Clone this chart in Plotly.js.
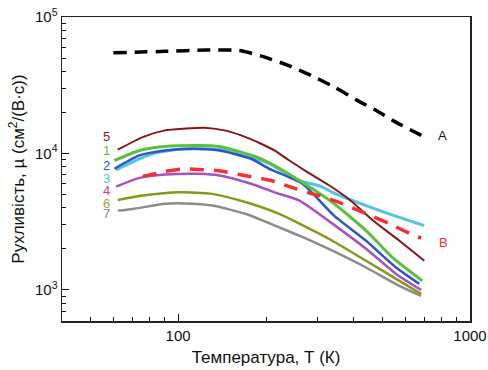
<!DOCTYPE html>
<html><head><meta charset="utf-8">
<script src="https://cdn.plot.ly/plotly-3.0.1.min.js"></script>
<style>html,body{margin:0;padding:0;background:#fff}</style>
</head><body><div id="chart" style="width:488px;height:370px"></div>
<script>
// Temperature T (K) and mobility mu (cm^2/(V*s)) for each curve
const tA = [60, 90, 125, 162, 193, 237, 284, 343, 408, 482, 559, 681];
const muA = [54600, 56000, 57200, 56800, 51700, 44400, 37500, 30600, 24700, 20400, 16900, 13560];

const tB = [75.6, 90, 105, 122, 136, 169, 208, 254, 288, 305, 365, 440, 529, 644, 680];
const muB = [6770, 7370, 7720, 7600, 7500, 6890, 6330, 5500, 5050, 4910, 4290, 3620, 3060, 2500, 2400];

const t5 = [62.1, 75.6, 90.1, 105.1, 123, 144, 164.4, 192.4, 213.7, 240.5, 274.5, 329.8, 386, 463, 573, 697];
const mu5 = [10650, 13180, 14760, 15200, 15450, 14760, 13560, 11780, 10520, 8880, 7400, 5820, 4600, 3250, 2290, 1634];

const t1 = [60.5, 73.7, 90.1, 118.3, 138.5, 164.4, 192.4, 213.7, 260.3, 337.6, 440.4, 541.9, 686.4];
const mu1 = [8880, 10520, 11260, 11450, 11260, 10220, 9140, 8160, 6330, 4380, 2720, 1730, 1165];

const t2 = [60.5, 73.7, 90.1, 112.2, 138.5, 177.8, 205.4, 266.6, 342, 440.4, 558, 670.5];
const mu2 = [7720, 9670, 10520, 10830, 10520, 9140, 7720, 5990, 3500, 2290, 1460, 1107];

const t3 = [61.3, 73.7, 86.3, 105, 138.5, 177.8, 205.4, 260.3, 307, 337.6, 440.4, 572.8, 697];
const mu3 = [7590, 9140, 10220, 10800, 10700, 9390, 8400, 6330, 5770, 5190, 4150, 3400, 2955];

const t4 = [61.3, 73.7, 90.1, 118.3, 138.5, 177.8, 213.7, 260.3, 337.6, 440.4, 558, 680];
const mu4 = [5720, 6625, 7010, 7090, 6890, 5990, 5190, 4510, 3060, 2000, 1310, 1000];

const t6 = [62.1, 75.6, 101, 131, 171, 222, 260.3, 337.6, 440.4, 572.8, 680];
const mu6 = [4565, 4910, 5190, 5054, 4383, 3603, 3057, 2293, 1634, 1165, 935];

const t7 = [62.1, 69.9, 90.1, 105, 131, 171, 222, 260.3, 337.6, 440.4, 572.8, 680];
const mu7 = [3810, 3920, 4270, 4300, 4150, 3600, 2870, 2495, 1936, 1459, 1070, 903];

const curveLabels = ['5', '1', '2', '3', '4', '6', '7'];
const endLabels = ['A', 'B'];
const xTickVals = [100, 1000];
const xTickText = ['100', '1000'];
const yTickVals = [1000, 10000, 100000];
const yTickText = ['10<sup>3</sup>', '10<sup>4</sup>', '10<sup>5</sup>'];
const xMinorVals = [50, 60, 70, 80, 90, 200, 300, 400, 500, 600, 700, 800, 900];
const yMinorVals = [700, 800, 900, 2000, 3000, 4000, 5000, 6000, 7000, 8000, 9000,
  20000, 30000, 40000, 50000, 60000, 70000, 80000, 90000];

function tr(x, y, color, width, dash) {
  return {x: x, y: y, type: 'scatter', mode: 'lines', hoverinfo: 'skip',
    line: {color: color, width: width, dash: dash || 'solid', shape: 'spline', smoothing: 0.6}};
}

const data = [
  tr(t7, mu7, '#8c8c8c', 2.5),
  tr(t6, mu6, '#8a961e', 2.5),
  tr(t4, mu4, '#a552c4', 2.5),
  tr(t3, mu3, '#4ec6de', 3),
  tr(t2, mu2, '#2d55c6', 2.5),
  tr(t1, mu1, '#5cc03c', 3),
  tr(t5, mu5, '#86161a', 2),
  tr(tB, muB, '#f23232', 3.5, '14px,10px'),
  tr(tA, muA, '#000000', 3.5, '13px,8px')
];

const lab = (text, x, y, color) => ({text: text, x: Math.log10(x), y: Math.log10(y), xref: 'x', yref: 'y',
  showarrow: false, font: {size: 13, color: color, family: 'Liberation Sans, Arial, sans-serif'}});

const annotations = [
  lab(curveLabels[0], 56.7, 13200, '#8b2326'),
  lab(curveLabels[1], 56.7, 10500, '#5cc03c'),
  lab(curveLabels[2], 56.7, 8170, '#2d55c6'),
  lab(curveLabels[3], 56.7, 6550, '#4ec6de'),
  lab(curveLabels[4], 56.7, 5350, '#c040a8'),
  lab(curveLabels[5], 56.7, 4290, '#a8a23c'),
  lab(curveLabels[6], 56.7, 3620, '#8c8c8c'),
  lab(endLabels[0], 803, 13550, '#111111'),
  lab(endLabels[1], 810, 2230, '#f23232')
];

const axisFont = {family: 'Liberation Sans, Arial, sans-serif', size: 15, color: '#111'};
const layout = {
  width: 488, height: 370,
  margin: {l: 62, r: 18, t: 17, b: 49},
  paper_bgcolor: '#fff', plot_bgcolor: '#fff',
  showlegend: false,
  font: axisFont,
  annotations: annotations,
  xaxis: {
    type: 'log', range: [Math.log10(40), 3],
    tickvals: xTickVals, ticktext: xTickText,
    ticks: 'inside', ticklen: 7, tickwidth: 1.2, tickcolor: '#111',
    minor: {tickvals: xMinorVals, ticks: 'inside', ticklen: 4, tickwidth: 1, tickcolor: '#111', showgrid: false},
    showgrid: false, zeroline: false,
    showline: true, linecolor: '#222', linewidth: 1.5, mirror: true,
    tickfont: axisFont,
    title: {text: 'Температура, Т (К)', font: {family: 'Liberation Sans, Arial, sans-serif', size: 17, color: '#111'}, standoff: 8}
  },
  yaxis: {
    type: 'log', range: [2.772, 5],
    tickvals: yTickVals, ticktext: yTickText,
    ticks: 'inside', ticklen: 7, tickwidth: 1.2, tickcolor: '#111',
    minor: {tickvals: yMinorVals, ticks: 'inside', ticklen: 4, tickwidth: 1, tickcolor: '#111', showgrid: false},
    showgrid: false, zeroline: false,
    showline: true, linecolor: '#222', linewidth: 1.5, mirror: true,
    tickfont: axisFont,
    title: {text: 'Рухливість, µ (см<sup>2</sup>/(В·с))', font: {family: 'Liberation Sans, Arial, sans-serif', size: 17, color: '#111'}, standoff: 6}
  }
};

Plotly.newPlot('chart', data, layout, {displayModeBar: false, staticPlot: true});
</script></body></html>
